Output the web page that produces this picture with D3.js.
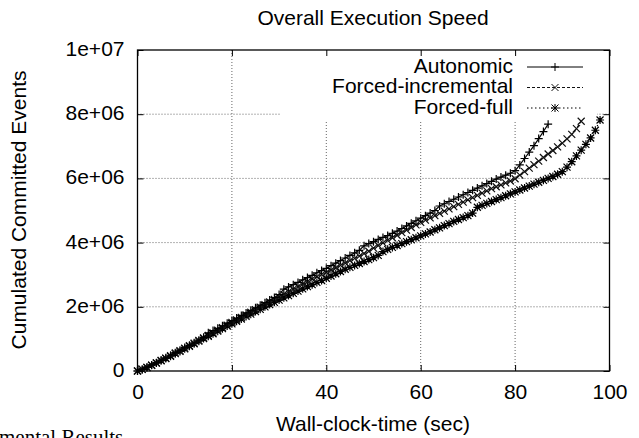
<!DOCTYPE html>
<html>
<head>
<meta charset="utf-8">
<script src="https://cdn.jsdelivr.net/npm/d3@7"></script>
<style>
  body { margin: 0; background: #fff; }
  svg { display: block; font-family: "Liberation Sans", Arial, Helvetica, sans-serif; }
  .grid line { stroke: #666; stroke-width: 1; stroke-dasharray: 1,2; }
  .axis path { display: none; }
  .axis line { stroke: #000; }
  .axis text { font-size: 21px; fill: #000; }
</style>
</head>
<body>
<div id="chart"></div>
<script>
// one sample per second of wall-clock time, values in millions of events
const autonomic = [
  0.00, 0.05, 0.12, 0.19, 0.26, 0.34, 0.41, 0.49, 0.57, 0.65,
  0.73, 0.80, 0.88, 0.96, 1.05, 1.19, 1.26, 1.33, 1.41, 1.49,
  1.57, 1.65, 1.73, 1.81, 1.89, 1.97, 2.05, 2.13, 2.21, 2.29,
  2.38, 2.55, 2.62, 2.69, 2.76, 2.84, 2.91, 2.98, 3.06, 3.13,
  3.20, 3.28, 3.36, 3.44, 3.52, 3.60, 3.68, 3.76, 3.90, 3.97,
  4.03, 4.10, 4.16, 4.22, 4.29, 4.36, 4.44, 4.52, 4.60, 4.68,
  4.76, 4.84, 4.92, 5.00, 5.14, 5.21, 5.28, 5.35, 5.42, 5.49,
  5.56, 5.63, 5.70, 5.77, 5.84, 5.91, 5.98, 6.04, 6.10, 6.16,
  6.24, 6.42, 6.62, 6.82, 7.02, 7.24, 7.46, 7.69
];
const forcedIncremental = [
  0.00, 0.05, 0.11, 0.18, 0.25, 0.33, 0.40, 0.48, 0.56, 0.63,
  0.71, 0.79, 0.87, 0.95, 1.03, 1.11, 1.19, 1.27, 1.35, 1.43,
  1.51, 1.59, 1.67, 1.75, 1.83, 1.91, 1.99, 2.07, 2.15, 2.23,
  2.31, 2.39, 2.47, 2.55, 2.63, 2.71, 2.78, 2.86, 2.93, 3.00,
  3.07, 3.14, 3.21, 3.29, 3.36, 3.44, 3.51, 3.58, 3.66, 3.73,
  3.83, 3.91, 3.99, 4.07, 4.15, 4.23, 4.31, 4.39, 4.47, 4.55,
  4.63, 4.70, 4.77, 4.84, 4.91, 4.98, 5.05, 5.12, 5.19, 5.26,
  5.33, 5.40, 5.47, 5.54, 5.61, 5.68, 5.74, 5.80, 5.86, 5.92,
  5.99, 6.10, 6.21, 6.32, 6.43, 6.54, 6.65, 6.76, 6.87, 6.98,
  7.10, 7.23, 7.37, 7.55, 7.78
];
const forcedFull = [
  0.00, 0.05, 0.11, 0.18, 0.25, 0.32, 0.39, 0.46, 0.54, 0.61,
  0.69, 0.77, 0.85, 0.93, 1.01, 1.08, 1.16, 1.24, 1.32, 1.40,
  1.47, 1.55, 1.62, 1.70, 1.77, 1.85, 1.92, 2.00, 2.07, 2.14,
  2.21, 2.28, 2.35, 2.42, 2.49, 2.56, 2.63, 2.69, 2.76, 2.82,
  2.89, 2.96, 3.03, 3.10, 3.17, 3.23, 3.29, 3.35, 3.41, 3.47,
  3.53, 3.60, 3.72, 3.79, 3.85, 3.91, 3.97, 4.03, 4.09, 4.15,
  4.21, 4.27, 4.33, 4.40, 4.46, 4.53, 4.59, 4.66, 4.72, 4.78,
  4.84, 4.92, 5.10, 5.16, 5.22, 5.28, 5.34, 5.40, 5.46, 5.52,
  5.58, 5.64, 5.70, 5.76, 5.82, 5.88, 5.94, 6.00, 6.06, 6.13,
  6.21, 6.35, 6.52, 6.70, 6.88, 7.06, 7.26, 7.50, 7.82
];

const seriesNames = ['Autonomic', 'Forced-incremental', 'Forced-full'];
const xTicks = [0, 20, 40, 60, 80, 100];
const yTicks = [0, 2e6, 4e6, 6e6, 8e6, 1e7];
const yTickLabels = ['0', '2e+06', '4e+06', '6e+06', '8e+06', '1e+07'];

const width = 639;
const height = 438;
const plot = { left: 137.5, right: 609.5, top: 50, bottom: 371 };
const key = { left: 280, right: 597, top: 50, bottom: 121 };

const x = d3.scaleLinear().domain([0, 100]).range([plot.left, plot.right]);
const y = d3.scaleLinear().domain([0, 1e7]).range([plot.bottom, plot.top]);

const svg = d3
  .select('#chart')
  .append('svg')
  .attr('width', width)
  .attr('height', height);

// grid
const grid = svg.append('g').attr('class', 'grid');
grid
  .selectAll('.gx')
  .data(xTicks.slice(1, -1))
  .join('line')
  .attr('x1', d => x(d))
  .attr('x2', d => x(d))
  .attr('y1', plot.top)
  .attr('y2', plot.bottom);
grid
  .selectAll('.gy')
  .data(yTicks.slice(1, -1))
  .join('line')
  .attr('x1', plot.left)
  .attr('x2', plot.right)
  .attr('y1', d => y(d))
  .attr('y2', d => y(d));

// the key box wipes the grid under it
svg
  .append('rect')
  .attr('x', key.left)
  .attr('y', key.top)
  .attr('width', key.right - key.left)
  .attr('height', key.bottom - key.top)
  .attr('fill', '#fff');

// axes: inward ticks on all four sides
const tick = 6;
svg
  .append('g')
  .attr('class', 'axis')
  .attr('transform', `translate(${plot.left},0)`)
  .call(
    d3.axisLeft(y)
      .tickValues(yTicks)
      .tickSize(-tick)
      .tickPadding(13)
      .tickFormat((d, i) => yTickLabels[i])
  );
svg
  .append('g')
  .attr('class', 'axis')
  .attr('transform', `translate(${plot.right},0)`)
  .call(d3.axisRight(y).tickValues(yTicks).tickSize(-tick).tickFormat(''));
svg
  .append('g')
  .attr('class', 'axis')
  .attr('transform', `translate(0,${plot.bottom})`)
  .call(
    d3.axisBottom(x)
      .tickValues(xTicks)
      .tickSize(-tick)
      .tickPadding(22)
      .tickFormat(d => d.toString())
  );
svg
  .append('g')
  .attr('class', 'axis')
  .attr('transform', `translate(0,${plot.top})`)
  .call(d3.axisTop(x).tickValues(xTicks).tickSize(-tick).tickFormat(''));

svg.selectAll('.axis text').attr('dy', null).attr('dominant-baseline', 'middle');

svg
  .append('rect')
  .attr('x', plot.left)
  .attr('y', plot.top)
  .attr('width', plot.right - plot.left)
  .attr('height', plot.bottom - plot.top)
  .attr('fill', 'none')
  .attr('stroke', '#000')
  .attr('stroke-width', 1.3);

// series
const markers = {
  plus: 'M-4,0H4M0,-4V4',
  cross: 'M-3.5,-3.5L3.5,3.5M-3.5,3.5L3.5,-3.5',
  star: 'M-4,0H4M0,-4V4M-3.5,-3.5L3.5,3.5M-3.5,3.5L3.5,-3.5'
};
const series = [
  { name: seriesNames[0], values: autonomic, dash: null, color: '#000', marker: markers.plus },
  { name: seriesNames[1], values: forcedIncremental, dash: '3,2', color: '#111', marker: markers.cross },
  { name: seriesNames[2], values: forcedFull, dash: '1.5,2.5', color: '#000', marker: markers.star }
];

const line = d3
  .line()
  .x((d, i) => x(i))
  .y(d => y(d * 1e6));

for (const s of [...series].reverse()) {
  const g = svg.append('g');
  g.append('path')
    .attr('d', line(s.values))
    .attr('fill', 'none')
    .attr('stroke', s.color)
    .attr('stroke-width', 1.2)
    .attr('stroke-dasharray', s.dash);
  g.selectAll('path.pt')
    .data(s.values)
    .join('path')
    .attr('class', 'pt')
    .attr('d', s.marker)
    .attr('transform', (d, i) => `translate(${x(i)},${y(d * 1e6)})`)
    .attr('fill', 'none')
    .attr('stroke', s.color)
    .attr('stroke-width', 1.2);
}

// key
const legend = svg.append('g');
series.forEach((s, i) => {
  const cy = 67 + i * 20.5;
  legend
    .append('text')
    .attr('x', 513)
    .attr('y', cy)
    .attr('text-anchor', 'end')
    .attr('dominant-baseline', 'middle')
    .attr('font-size', '21px')
    .text(s.name);
  legend
    .append('line')
    .attr('x1', 527)
    .attr('x2', 583)
    .attr('y1', cy)
    .attr('y2', cy)
    .attr('stroke', s.color)
    .attr('stroke-dasharray', s.dash);
  legend
    .append('path')
    .attr('d', s.marker)
    .attr('transform', `translate(555,${cy})`)
    .attr('fill', 'none')
    .attr('stroke', s.color);
});

// titles
svg
  .append('text')
  .attr('x', 373)
  .attr('y', 25)
  .attr('text-anchor', 'middle')
  .attr('font-size', '21px')
  .text('Overall Execution Speed');
svg
  .append('text')
  .attr('x', 373)
  .attr('y', 431)
  .attr('text-anchor', 'middle')
  .attr('font-size', '21px')
  .text('Wall-clock-time (sec)');
svg
  .append('text')
  .attr('transform', 'translate(26,210) rotate(-90)')
  .attr('text-anchor', 'middle')
  .attr('font-size', '21px')
  .text('Cumulated Committed Events');

// leftover caption from the surrounding page
svg
  .append('text')
  .attr('x', -1)
  .attr('y', 444)
  .attr('font-family', '"Liberation Serif", "Times New Roman", serif')
  .attr('font-size', '21px')
  .text('mental Results');
</script>
</body>
</html>
